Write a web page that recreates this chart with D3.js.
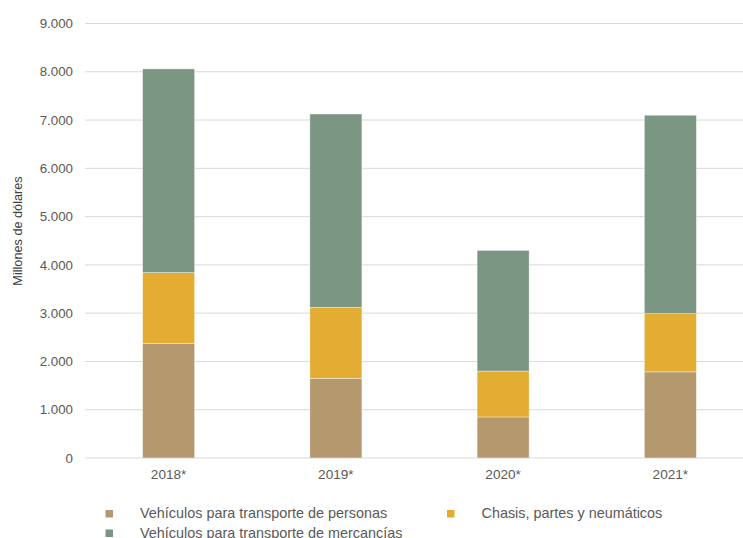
<!DOCTYPE html>
<html><head><meta charset="utf-8">
<script src="https://cdn.jsdelivr.net/npm/d3@7"></script>
<style>body{margin:0;background:#fff}svg{display:block;font-family:"Liberation Sans",Arial,sans-serif}</style>
</head><body><svg id="c" width="743" height="538"></svg>
<script>
const categories = ["2018*", "2019*", "2020*", "2021*"];
const personas = [2375, 1650, 850, 1785];
const chasis = [1465, 1470, 950, 1205];
const mercancias = [4220, 4005, 2500, 4110];
const yTicks = [0,1000,2000,3000,4000,5000,6000,7000,8000,9000];
const seriesNames = ["Vehículos para transporte de personas","Chasis, partes y neumáticos","Vehículos para transporte de mercancías"];
const colors = ["#b5996e","#e3ac33","#7b9784"];

const svg = d3.select("#c");
const x = d3.scaleBand().domain(categories).range([85,754]).paddingInner(0.689).paddingOuter(0.3445);
const y = d3.scaleLinear().domain([0,9000]).range([458,23.5]);
const fmt = v => d3.format(",")(v).replace(/,/g,".");

// grid
svg.append("g").selectAll("line").data(yTicks).join("line")
  .attr("x1",85).attr("x2",743).attr("y1",d=>y(d)).attr("y2",d=>y(d))
  .attr("stroke","#d9d9d9").attr("stroke-width",1);
// y labels
svg.append("g").selectAll("text").data(yTicks).join("text")
  .attr("x",73).attr("y",d=>y(d)).attr("dy","0.35em").attr("text-anchor","end")
  .attr("font-size",13.3).attr("fill","#595959").text(fmt);
// y title
svg.append("text").attr("transform","translate(22,231) rotate(-90)").attr("text-anchor","middle")
  .attr("font-size",12.7).attr("fill","#404040").text("Millones de dólares");

const data = categories.map((c,i)=>({cat:c, s0:personas[i], s1:chasis[i], s2:mercancias[i]}));
const stack = d3.stack().keys(["s0","s1","s2"])(data);
svg.append("g").selectAll("g").data(stack).join("g").attr("fill",(d,i)=>colors[i])
  .selectAll("rect").data(d=>d).join("rect")
  .attr("x",d=>x(d.data.cat)).attr("width",x.bandwidth())
  .attr("y",d=>y(d[1])).attr("height",d=>y(d[0])-y(d[1]))
  .attr("stroke","#ffffff").attr("stroke-opacity",0.5).attr("stroke-width",0.75);

// x labels
svg.append("g").selectAll("text").data(categories).join("text")
  .attr("x",d=>x(d)+x.bandwidth()/2).attr("y",479).attr("text-anchor","middle")
  .attr("font-size",13.6).attr("fill","#595959").text(d=>d);

// legend
const leg = [{x:105.5,y:510},{x:447,y:510},{x:105.5,y:529.5}];
const lg = svg.append("g").selectAll("g").data(seriesNames).join("g");
lg.append("rect").attr("x",(d,i)=>leg[i].x).attr("y",(d,i)=>leg[i].y).attr("width",7.5).attr("height",7.5)
  .attr("fill",(d,i)=>colors[i]);
lg.append("text").attr("x",(d,i)=>leg[i].x+34.5).attr("y",(d,i)=>leg[i].y+8.3)
  .attr("font-size",14.4).attr("fill","#595959").text(d=>d);
</script></body></html>
